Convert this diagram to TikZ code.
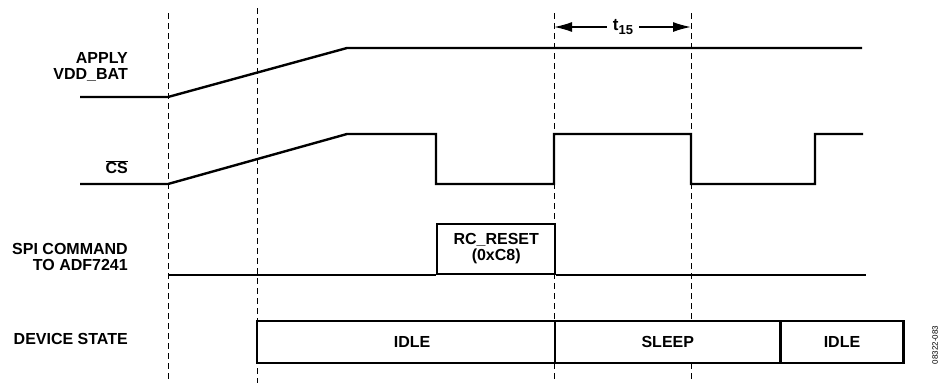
\documentclass[tikz,border=0pt]{standalone}
\usepackage{fontspec}
\setmainfont{Liberation Sans}
\usetikzlibrary{arrows.meta}
\begin{document}
\begin{tikzpicture}[x=1pt,y=-1pt,
    signal/.style={line width=2.4pt, line join=miter},
    guide/.style={line width=1pt, dash pattern=on 6pt off 4pt},
    dimline/.style={line width=1.5pt, -{Latex[length=18pt,width=10pt]}},
    lbl/.style={font=\bfseries\fontsize{16}{16}\selectfont, align=right, anchor=east, inner sep=0pt},
    cmdbox/.style={draw, fill=white, line width=2.4pt, inner sep=0pt, align=center,
      font=\bfseries\fontsize{16}{16}\selectfont},
    statebox/.style={draw, fill=white, line width=1.2pt, inner sep=0pt, minimum height=41pt,
      anchor=north west, font=\bfseries\fontsize{16}{16}\selectfont}]
  \useasboundingbox (0,0) rectangle (938,383);

  % dashed time markers
  \foreach \x/\top [count=\i] in {168/13, 257/8, 554/13, 691/13} {
    \coordinate (g\i-top) at (\x,\top);
    \coordinate (g\i-bot) at (\x,383);
    \draw[guide] (g\i-top) -- (g\i-bot);
  }

  % signal names
  \node[lbl] (vdd-lbl) at (128,67) {APPLY\\VDD\_BAT};
  \node[lbl] (cs-lbl) at (128,167) {$\overline{\mbox{CS}}$};
  \node[lbl] (spi-lbl) at (128,257) {SPI COMMAND\\TO ADF7241};
  \node[lbl] (state-lbl) at (128,339) {DEVICE STATE};

  % supply
  \draw[signal] (80,97) -- (g1-top |- 0,97) -- (347,48) -- (862,48);

  % chip select
  \draw[signal] (80,184) -- (g1-top |- 0,184) -- (347,134) -- (436,134) -- (436,184)
    -- (g3-top |- 0,184) -- (g3-top |- 0,134) -- (g4-top |- 0,134) -- (g4-top |- 0,184)
    -- (815,184) -- (815,134) -- (863,134);

  % spi command
  \node[cmdbox, minimum width=118pt, minimum height=50pt, anchor=south west]
    (rcreset) at (436,275) {RC\_RESET\\(0xC8)};
  \draw[signal] (g1-top |- 0,275) -- (rcreset.south west);
  \draw[signal] (rcreset.south east) -- (866,275);

  % device state
  \node[statebox, minimum width=297pt] (idle-a) at (257,321) {\hspace*{12pt}IDLE};
  \node[statebox, minimum width=224pt] (sleep) at (idle-a.north east) {SLEEP};
  \node[statebox, minimum width=122pt] (idle-b) at (sleep.north east) {IDLE};
  \draw[signal] (idle-a.north west) rectangle (idle-b.south east);

  % t15
  \node[font=\bfseries\fontsize{17}{17}\selectfont, inner sep=6pt] (t15) at (623,27)
    {t\raisebox{-4pt}{\fontsize{13}{13}\selectfont 15}};
  \draw[dimline] (t15.west) -- (g3-top |- t15.west);
  \draw[dimline] (t15.east) -- (g4-top |- t15.east);

  \node[font=\fontsize{8}{9}\selectfont, rotate=90, inner sep=0pt] (figno) at (935,345) {08322-083};
\end{tikzpicture}
\end{document}
